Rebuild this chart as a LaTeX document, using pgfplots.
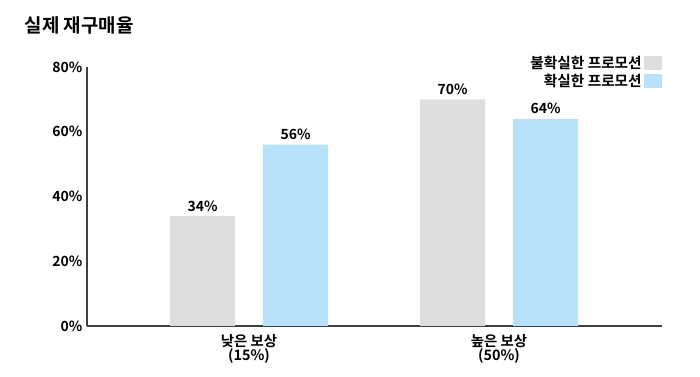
\documentclass[border=0pt]{standalone}
\usepackage{fontspec}
\setmainfont{Noto Sans CJK KR}[BoldFont={Noto Sans CJK KR Bold}]
\usepackage{pgfplots}
\pgfplotsset{compat=1.18}
\definecolor{gbar}{HTML}{DEDEDE}
\definecolor{bbar}{HTML}{B8E1FC}
\definecolor{axc}{HTML}{404040}
\begin{document}
\begin{tikzpicture}[x=0.75pt,y=0.75pt]
\useasboundingbox (0,0) rectangle (700,377);
\node[anchor=west,font=\fontsize{14.2pt}{16pt}\selectfont\bfseries] at (20,352) {실제 재구매율};
\begin{axis}[
  at={(65.25pt,38.25pt)}, anchor=south west,
  scale only axis, width=431.25pt, height=194.25pt,
  xmin=-0.648, xmax=1.652, ymin=0, ymax=80,
  axis x line=bottom, axis y line=left,
  axis line style={axc, line width=1.5pt, -},
  ytick={0,20,40,60,80},
  yticklabel={\pgfmathprintnumber{\tick}\%},
  /pgf/number format/assume math mode=true,
  xtick={0,1},
  xticklabels={{낮은 보상\\(15\%)},{높은 보상\\(50\%)}},
  xticklabel style={align=center, yshift=-2.5pt, font=\fontsize{10.8pt}{10.5pt}\selectfont\bfseries},
  yticklabel style={font=\fontsize{10.5pt}{12pt}\selectfont\bfseries},
  major tick length=0pt,
  ybar, bar width=0.26,
  nodes near coords={\pgfmathprintnumber{\pgfplotspointmeta}\%},
  nodes near coords style={font=\fontsize{10.5pt}{12pt}\selectfont\bfseries, black},
  legend plot pos=right,
  legend cell align=right,
  legend style={at={(1,1)}, anchor=north east, yshift=10.5pt, draw=none, fill=none,
    font=\fontsize{11pt}{12pt}\selectfont\bfseries, row sep=-1.5pt, inner sep=0pt},
  legend image code/.code={\fill[#1] (0pt,-5.5pt) rectangle (13pt,5.5pt);},
]
\addplot[fill=gbar, draw=none, bar shift=-0.186] coordinates {(0,34) (1,70)};
\addplot[fill=bbar, draw=none, bar shift=0.186] coordinates {(0,56) (1,64)};
\legend{불확실한 프로모션, 확실한 프로모션}
\end{axis}
\end{tikzpicture}
\end{document}
